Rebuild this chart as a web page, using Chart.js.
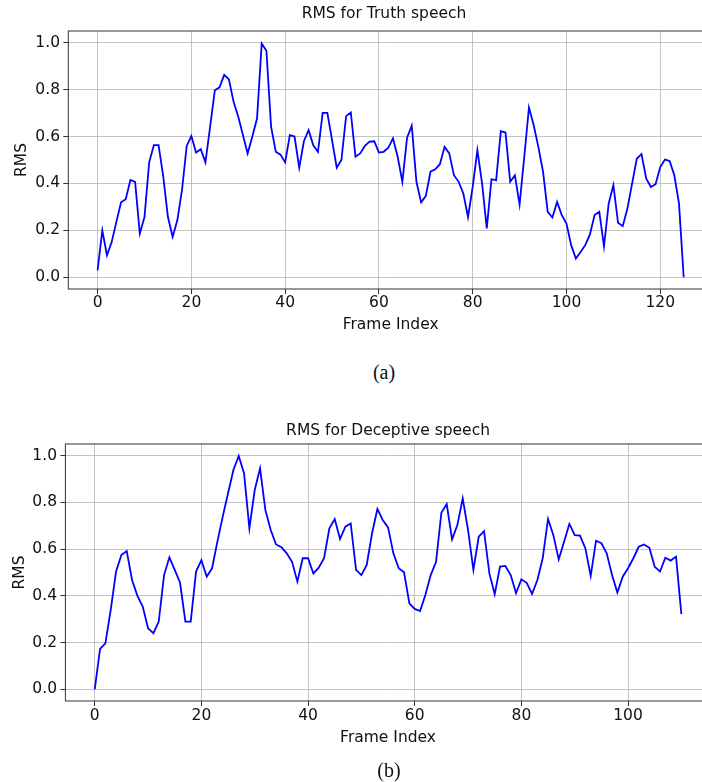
<!DOCTYPE html>
<html>
<head>
<meta charset="utf-8">
<script src="https://cdn.jsdelivr.net/npm/chart.js@4/dist/chart.umd.min.js"></script>
<style>
  html, body { margin: 0; padding: 0; background: #fff; overflow: hidden; }
  body { width: 702px; height: 782px; position: relative; }
  canvas { position: absolute; left: 0; }
  #truthChart { top: 0; }
  #deceptiveChart { top: 400px; }
  .caption {
    position: absolute;
    font-family: "Liberation Serif", "Times New Roman", serif;
    font-size: 20px;
    line-height: 1;
    color: #111;
    transform: translate(-50%, -50%);
  }
</style>
</head>
<body>
<canvas id="truthChart" width="768" height="345"></canvas>
<canvas id="deceptiveChart" width="730" height="382"></canvas>
<div class="caption" style="left:384px; top:372px">(a)</div>
<div class="caption" style="left:389px; top:770px">(b)</div>
<script>
// RMS per frame
const truthRms = [
  0.03, 0.20, 0.094, 0.15, 0.236, 0.32, 0.333, 0.415, 0.407, 0.186,
  0.257, 0.49, 0.563, 0.563, 0.43, 0.257, 0.172, 0.243, 0.371, 0.56,
  0.602, 0.532, 0.546, 0.49, 0.642, 0.797, 0.81, 0.863, 0.844, 0.748,
  0.684, 0.606, 0.528, 0.60, 0.677, 0.997, 0.966, 0.642, 0.535, 0.523,
  0.49, 0.606, 0.60, 0.467, 0.58, 0.627, 0.563, 0.535, 0.701, 0.701,
  0.585, 0.467, 0.50, 0.687, 0.703, 0.514, 0.528, 0.56, 0.578, 0.58,
  0.532, 0.535, 0.552, 0.592, 0.514, 0.407, 0.595, 0.646, 0.407, 0.319,
  0.347, 0.45, 0.46, 0.482, 0.556, 0.528, 0.435, 0.407, 0.357, 0.257,
  0.385, 0.542, 0.40, 0.208, 0.418, 0.414, 0.623, 0.617, 0.407, 0.435,
  0.31, 0.514, 0.724, 0.649, 0.556, 0.45, 0.279, 0.255, 0.321, 0.265,
  0.229, 0.137, 0.08, 0.108, 0.137, 0.183, 0.265, 0.279, 0.132, 0.314,
  0.393, 0.232, 0.218, 0.293, 0.40, 0.506, 0.525, 0.421, 0.385, 0.397,
  0.47, 0.502, 0.496, 0.435, 0.314, 0.0
];

const deceptiveRms = [
  0.0, 0.173, 0.197, 0.34, 0.504, 0.575, 0.592, 0.468, 0.40, 0.354,
  0.261, 0.24, 0.29, 0.489, 0.565, 0.511, 0.456, 0.29, 0.29, 0.504,
  0.553, 0.482, 0.518, 0.632, 0.739, 0.839, 0.939, 0.999, 0.924, 0.689,
  0.853, 0.946, 0.767, 0.682, 0.62, 0.608, 0.582, 0.546, 0.461, 0.561,
  0.561, 0.496, 0.521, 0.561, 0.689, 0.729, 0.643, 0.696, 0.71, 0.511,
  0.489, 0.532, 0.668, 0.772, 0.725, 0.693, 0.582, 0.518, 0.501, 0.368,
  0.344, 0.335, 0.404, 0.489, 0.546, 0.756, 0.793, 0.642, 0.703, 0.817,
  0.682, 0.511, 0.653, 0.677, 0.496, 0.407, 0.525, 0.528, 0.489, 0.411,
  0.471, 0.456, 0.408, 0.468, 0.561, 0.729, 0.66, 0.556, 0.632, 0.708,
  0.66, 0.658, 0.603, 0.485, 0.636, 0.625, 0.582, 0.489, 0.414, 0.482,
  0.518, 0.561, 0.61, 0.62, 0.606, 0.525, 0.504, 0.563, 0.551, 0.568,
  0.322
];

const truthXTicks = [0, 20, 40, 60, 80, 100, 120];
const deceptiveXTicks = [0, 20, 40, 60, 80, 100];
const yTicks = [0, 0.2, 0.4, 0.6, 0.8, 1.0];

Chart.defaults.font.family = '"DejaVu Sans", sans-serif';
Chart.defaults.font.size = 15.5;
Chart.defaults.color = '#111';

const gridColor = 'rgba(176,176,176,0.75)';

// matplotlib style box round the axes
const frameBox = {
  id: 'frameBox',
  afterDatasetsDraw(chart) {
    const { ctx, chartArea: a } = chart;
    ctx.save();
    ctx.strokeStyle = '#333';
    ctx.lineWidth = 1;
    ctx.strokeRect(a.left, a.top, a.right - a.left, a.bottom - a.top);
    ctx.restore();
  }
};

function rmsChart(id, title, values, xTicks, lay) {
  const last = values.length - 1;
  const margin = last * 0.05;

  return new Chart(document.getElementById(id), {
    type: 'line',
    data: {
      datasets: [{
        data: values.map((v, i) => ({ x: i, y: v })),
        borderColor: '#0000ff',
        borderWidth: 1.8,
        pointRadius: 0,
        tension: 0
      }]
    },
    options: {
      responsive: false,
      animation: false,
      layout: { padding: { left: 0, top: lay.top, right: 0, bottom: lay.bottom } },
      plugins: {
        legend: { display: false },
        tooltip: { enabled: false },
        title: {
          display: true,
          text: title,
          fullSize: lay.titleFull,
          color: '#111',
          font: { size: 15.5, weight: 'normal' },
          padding: { top: 0, bottom: lay.titleGap }
        }
      },
      scales: {
        x: {
          type: 'linear',
          min: -margin,
          max: last + margin,
          afterBuildTicks: s => { s.ticks = xTicks.map(v => ({ value: v })); },
          afterFit: s => { s.height = lay.xAxisHeight; },
          grid: { color: gridColor, lineWidth: 1, tickLength: 5, tickColor: '#333' },
          border: { display: false },
          ticks: { padding: lay.xTickPad, maxRotation: 0, autoSkip: false, callback: v => String(v) },
          title: { display: true, text: 'Frame Index', padding: 0 }
        },
        y: {
          min: -0.05,
          max: 1.05,
          afterBuildTicks: s => { s.ticks = yTicks.map(v => ({ value: v })); },
          afterFit: s => { s.width = lay.yAxisWidth; },
          grid: { color: gridColor, lineWidth: 1, tickLength: 5, tickColor: '#333' },
          border: { display: false },
          ticks: { padding: lay.yTickPad, callback: v => v.toFixed(1) },
          title: { display: true, text: 'RMS', padding: { top: lay.yTitlePad, bottom: 0 } }
        },
        // empty spacer on the right, the plot runs past the page edge
        gap: {
          axis: 'y',
          type: 'linear',
          position: 'right',
          afterFit: s => { s.width = lay.rightGap; },
          grid: { display: false, drawTicks: false },
          border: { display: false },
          ticks: { display: false }
        }
      }
    },
    plugins: [frameBox]
  });
}

rmsChart('truthChart', 'RMS for Truth speech', truthRms, truthXTicks, {
  top: 4.7, titleGap: 7.7, titleFull: true, rightGap: 55, bottom: 10.7,
  yAxisWidth: 68.3, xAxisHeight: 45.3, yTitlePad: 12.7, yTickPad: 3.3, xTickPad: 0
});

rmsChart('deceptiveChart', 'RMS for Deceptive speech', deceptiveRms, deceptiveXTicks, {
  top: 21.7, titleGap: 3.7, titleFull: false, rightGap: 19.3, bottom: 35.2,
  yAxisWidth: 65.4, xAxisHeight: 45.8, yTitlePad: 10.7, yTickPad: 3.4, xTickPad: 0.7
});
</script>
</body>
</html>
